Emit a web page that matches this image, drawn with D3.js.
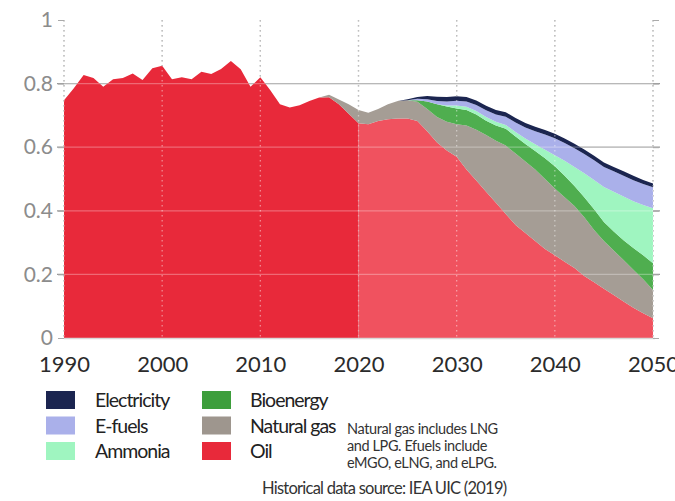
<!DOCTYPE html>
<html><head><meta charset="utf-8">
<script src="https://cdn.jsdelivr.net/npm/d3@7"></script>
<style>
body{margin:0;background:#fff;}
svg{display:block;font-family:Lato,"Open Sans",sans-serif;}
</style></head>
<body><svg id="chart" width="675" height="501"></svg>
<script>
const years = d3.range(1990, 2051);
const keys = ["Oil","Natural gas","Bioenergy","Ammonia","E-fuels","Electricity"];
const colors = ["#e8293a","#a59d95","#4fae4f","#9ff5c0","#aab0ea","#1b2550"];
const oilProjColor = "#f0525f";
const legendColors = ["#1b2550","#aab0ea","#9ff5c0","#3d9e3c","#9e968e","#e8293a"];
const xTicks = [1990,2000,2010,2020,2030,2040,2050];
const yTicks = [0,0.2,0.4,0.6,0.8,1];
// 1990..2050
const oil = [.748,.785,.827,.818,.790,.814,.818,.832,.811,.848,
             .856,.814,.820,.814,.837,.830,.846,.871,.845,.790,
             .820,.780,.735,.725,.732,.745,.756,.757,.735,.705,
             .675,.672,.682,.688,.690,.690,.682,.650,.615,.590,
             .570,.530,.495,.460,.425,.390,.355,.330,.305,.280,
             .260,.240,.220,.195,.175,.155,.135,.115,.095,.078,.062];
const gas = [0,0,0,0,0,0,0,0,0,0, 0,0,0,0,0,0,0,0,0,0,
             0,0,0,0,0,0,0,.008,.015,.030,
             .042,.036,.038,.047,.055,.058,.061,.070,.080,.090,
             .102,.138,.160,.178,.195,.215,.225,.225,.225,.220,
             .210,.203,.195,.185,.165,.150,.140,.130,.120,.107,.089];
const bio = [0,0,0,0,0,0,0,0,0,0, 0,0,0,0,0,0,0,0,0,0,
             0,0,0,0,0,0,0,0,0,0,
             0,0,0,0,0,0,.005,.024,.040,.048,
             .050,.049,.048,.045,.048,.053,.054,.055,.058,.065,
             .070,.067,.063,.063,.065,.060,.060,.062,.068,.075,.084];
const ammonia = [0,0,0,0,0,0,0,0,0,0, 0,0,0,0,0,0,0,0,0,0,
             0,0,0,0,0,0,0,0,0,0,
             0,0,0,0,0,0,0,0,0,.003,
             .009,.010,.011,.012,.012,.012,.014,.017,.021,.027,
             .035,.047,.060,.075,.092,.110,.125,.138,.147,.158,.173];
const efuels = [0,0,0,0,0,0,0,0,0,0, 0,0,0,0,0,0,0,0,0,0,
             0,0,0,0,0,0,0,0,0,0,
             0,0,0,0,0,0,.004,.007,.010,.013,
             .015,.017,.019,.021,.023,.026,.030,.035,.041,.048,
             .053,.056,.059,.061,.062,.063,.064,.065,.066,.066,.066];
const electricity = [0,0,0,0,0,0,0,0,0,0, 0,0,0,0,0,0,0,0,0,0,
             0,0,0,0,0,0,0,0,0,0,
             0,0,0,0,0,.003,.006,.010,.014,.014,
             .014,.014,.014,.014,.014,.014,.014,.014,.014,.014,
             .014,.014,.014,.014,.014,.014,.014,.014,.014,.013,.012];
const legendItems = ["Electricity","E-fuels","Ammonia","Bioenergy","Natural gas","Oil"];
const noteLines = ["Natural gas includes LNG","and LPG. Efuels include","eMGO, eLNG, and eLPG."];
const sourceText = "Historical data source: IEA UIC (2019)";

const seriesArr = [oil,gas,bio,ammonia,efuels,electricity];
const table = years.map((yr,i)=>{const o={year:yr}; keys.forEach((k,j)=>o[k]=seriesArr[j][i]); return o;});

const svg = d3.select("#chart");
const x = d3.scaleLinear().domain([1990,2050]).range([64,653]);
const y = d3.scaleLinear().domain([0,1]).range([338,20]);

const stacked = d3.stack().keys(keys)(table);
const area = d3.area().x(d=>x(d.data.year)).y0(d=>y(d[0])).y1(d=>y(d[1]));

const defs = svg.append("defs");
defs.append("clipPath").attr("id","hist").append("rect")
  .attr("x",0).attr("y",0).attr("width",x(2020)).attr("height",501);
defs.append("clipPath").attr("id","proj").append("rect")
  .attr("x",x(2020)).attr("y",0).attr("width",675-x(2020)).attr("height",501);

// background grid (gray)
svg.append("g").selectAll("line").data(yTicks.filter(d=>d>0 && d<1)).join("line")
  .attr("x1",57).attr("x2",660).attr("y1",d=>y(d)).attr("y2",d=>y(d))
  .attr("stroke","#9a9a9a").attr("stroke-width",1.3);
svg.append("g").selectAll("line").data(xTicks).join("line")
  .attr("x1",d=>x(d)).attr("x2",d=>x(d)).attr("y1",y(1)).attr("y2",y(0))
  .attr("stroke","#8a8a8a").attr("stroke-width",1.3).attr("stroke-dasharray","1.5,3.5");

// areas
const layers = svg.append("g");
stacked.forEach((s,i)=>{
  if(keys[i]==="Oil"){
    layers.append("path").datum(s).attr("d",area).attr("fill",colors[i]).attr("clip-path","url(#hist)");
    layers.append("path").datum(s).attr("d",area).attr("fill",oilProjColor).attr("clip-path","url(#proj)");
  } else {
    layers.append("path").datum(s).attr("d",area).attr("fill",colors[i]);
  }
});

// overlay grid (light)
svg.append("g").selectAll("line").data(yTicks.filter(d=>d>0 && d<1)).join("line")
  .attr("x1",64).attr("x2",653).attr("y1",d=>y(d)).attr("y2",d=>y(d))
  .attr("stroke","rgba(255,255,255,0.3)").attr("stroke-width",1.3);
svg.append("g").selectAll("line").data(xTicks).join("line")
  .attr("x1",d=>x(d)).attr("x2",d=>x(d)).attr("y1",y(1)).attr("y2",y(0))
  .attr("stroke","rgba(255,255,255,0.45)").attr("stroke-width",1.3).attr("stroke-dasharray","1.5,3.5");

// baseline
svg.append("line").attr("x1",64).attr("x2",655).attr("y1",y(0)+0.5).attr("y2",y(0)+0.5)
  .attr("stroke","#d8d8d8").attr("stroke-width",1.5);

// y axis
const yAxis = svg.append("g").attr("transform","translate(64,0)")
  .call(d3.axisLeft(y).tickValues(yTicks).tickSize(6).tickPadding(5)
    .tickFormat(d=> d===0?"0":(d===1?"1":d3.format(".1f")(d))));
yAxis.select(".domain").remove();
yAxis.selectAll("line").attr("stroke","#aaa");
yAxis.selectAll("text").attr("fill","#8c8c8c").attr("font-size",21).attr("font-family","Lato");
// right ticks
const yAxisR = svg.append("g").attr("transform","translate(653,0)")
  .call(d3.axisRight(y).tickValues(yTicks).tickSize(6).tickFormat(""));
yAxisR.select(".domain").remove();
yAxisR.selectAll("line").attr("stroke","#aaa");

// x axis
const xAxis = svg.append("g").attr("transform","translate(0,"+y(0)+")")
  .call(d3.axisBottom(x).tickValues(xTicks).tickSize(0).tickPadding(0).tickFormat(d3.format("d")));
xAxis.select(".domain").remove();
xAxis.selectAll("text").attr("fill","#2b2b2b").attr("font-size",22).attr("font-family","Lato")
  .attr("y",34).attr("dy",0);

// legend
const leg = svg.append("g");
legendItems.forEach((name,i)=>{
  const col = Math.floor(i/3), row = i%3;
  const gx = col===0?46:202, tx = col===0?95:250;
  const gy = 391 + row*25.5;
  leg.append("rect").attr("x",gx).attr("y",gy).attr("width",29).attr("height",18).attr("fill",legendColors[i]);
  leg.append("text").attr("x",tx).attr("y",gy+16).text(name)
    .attr("font-size",19.5).attr("letter-spacing",-1).attr("fill","#222").attr("font-family","Lato");
});
// note
svg.append("g").selectAll("text").data(noteLines).join("text")
  .attr("x",347).attr("y",(d,i)=>434+i*17).text(d=>d)
  .attr("font-size",14.5).attr("letter-spacing",-0.4).attr("fill","#333").attr("font-family","Lato");
svg.append("text").attr("x",262).attr("y",494).text(sourceText)
  .attr("font-size",16.5).attr("letter-spacing",-0.75).attr("fill","#333").attr("font-family","Lato");
</script>
</body></html>
